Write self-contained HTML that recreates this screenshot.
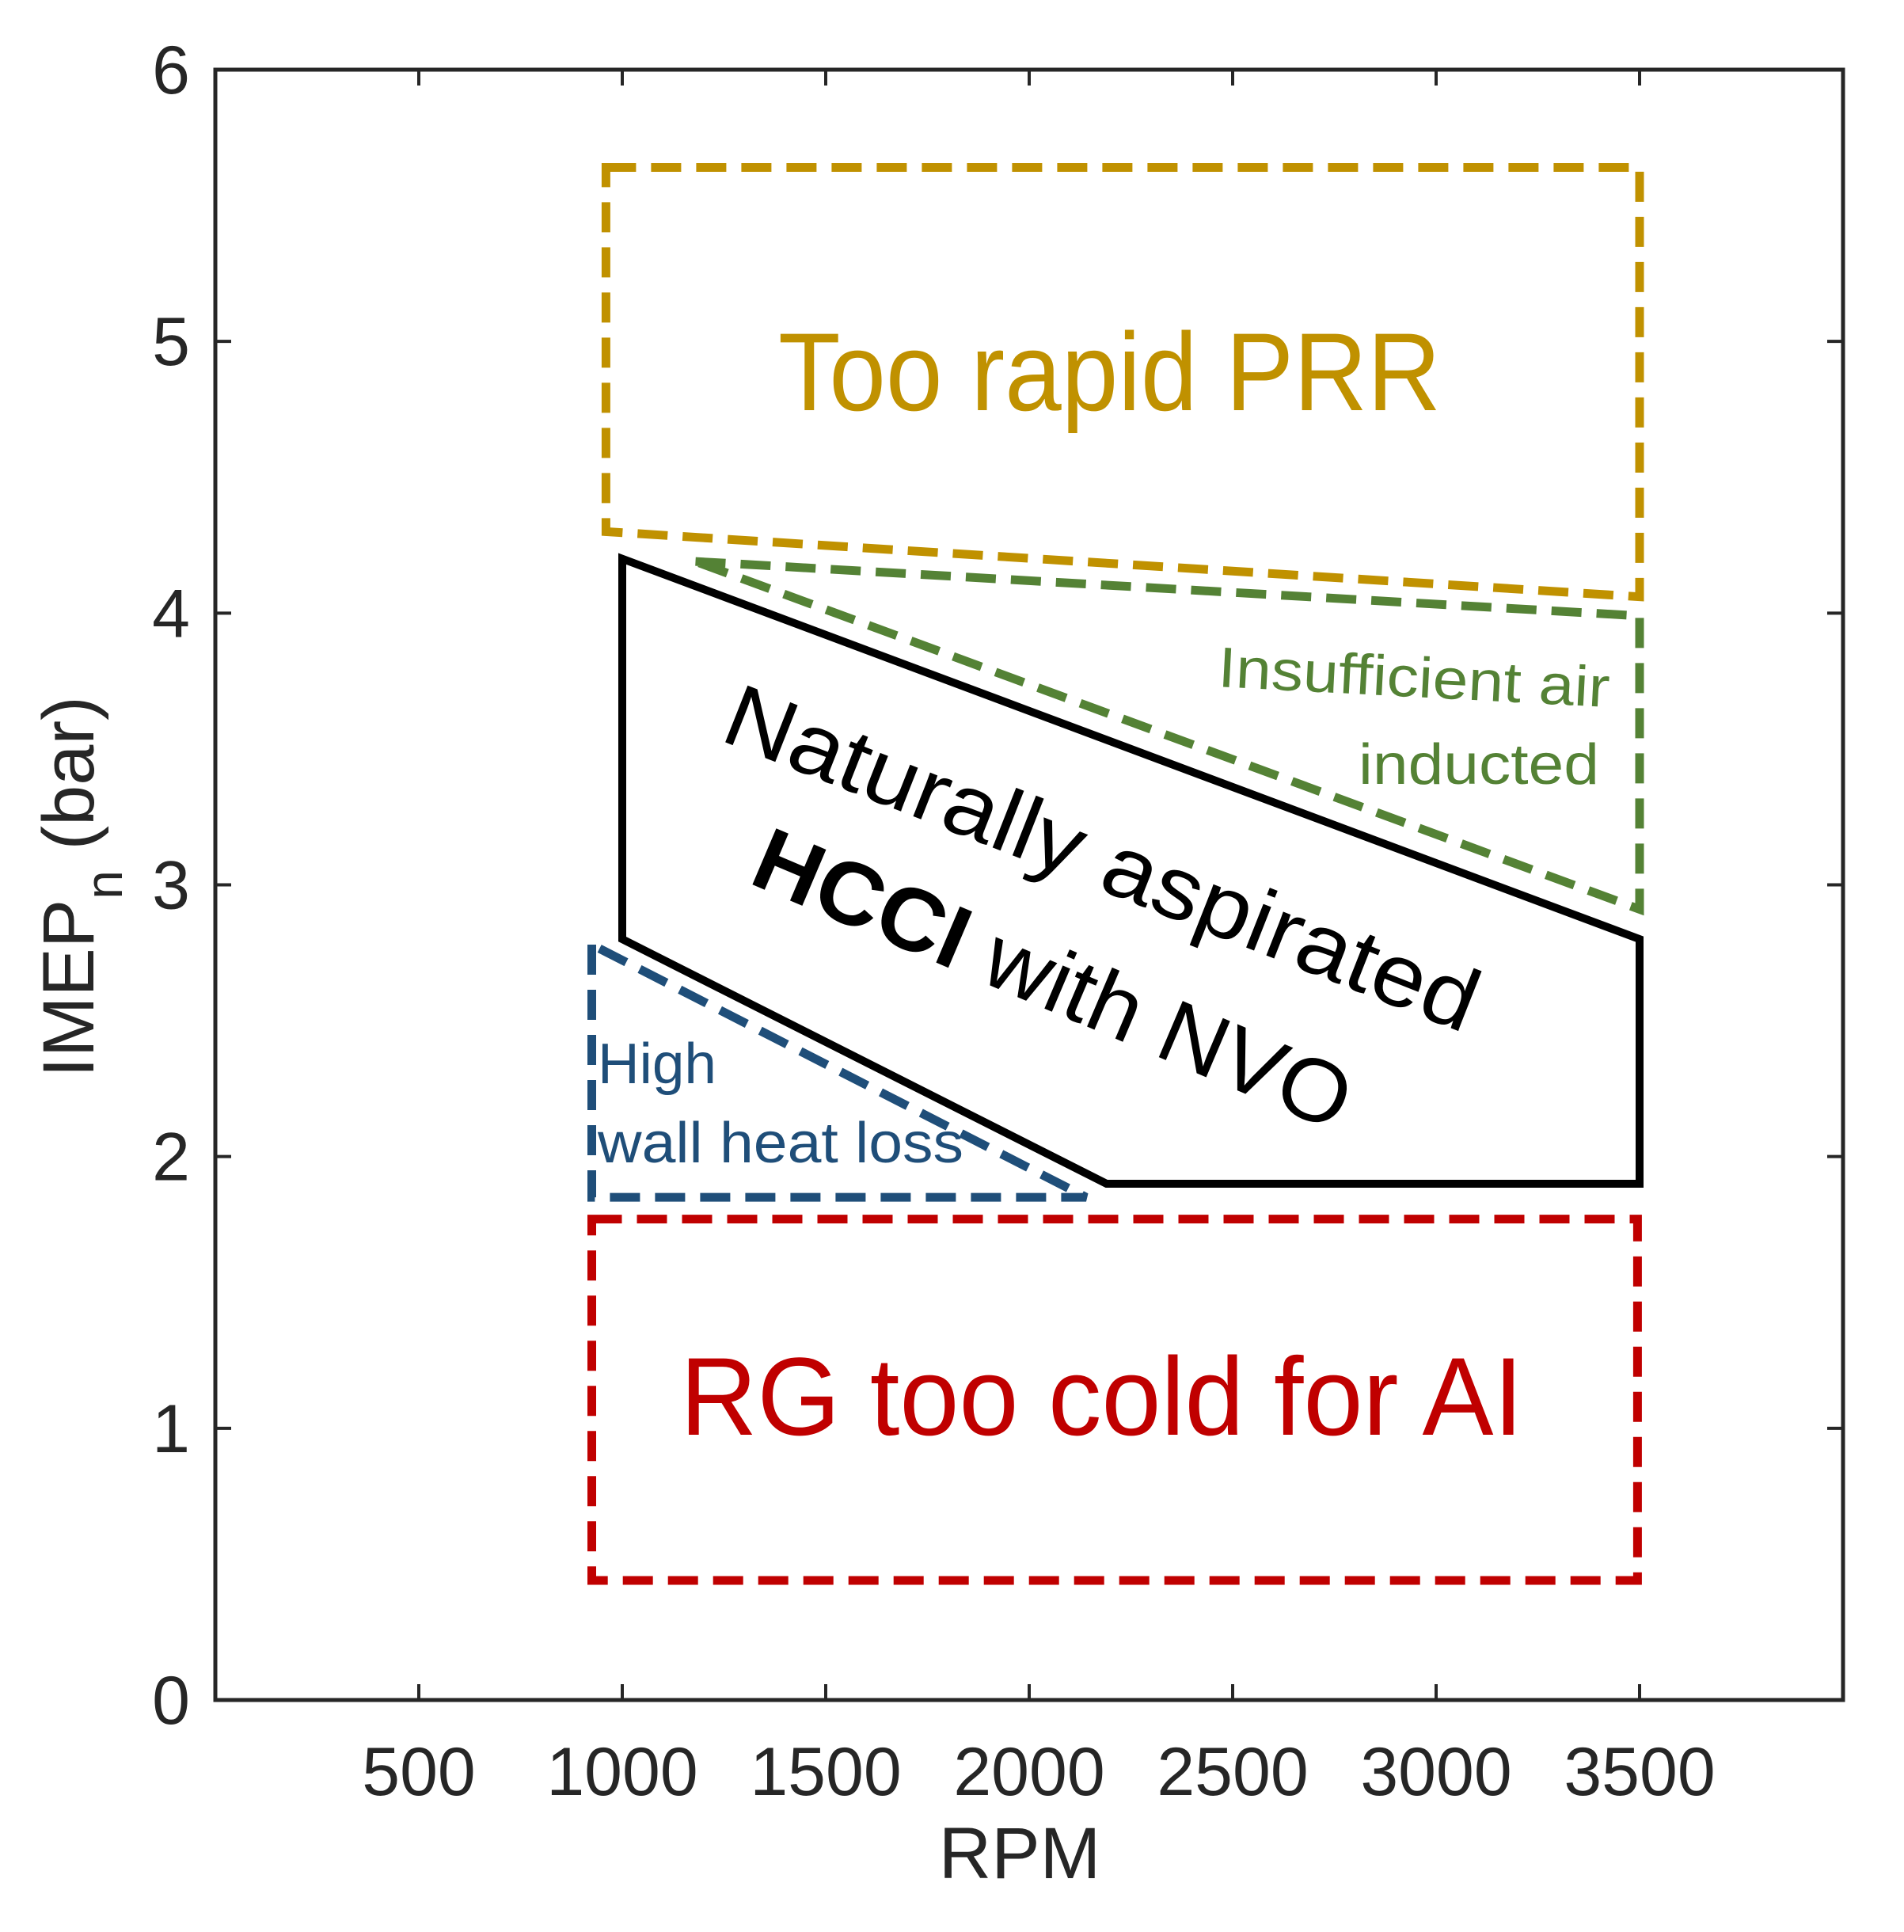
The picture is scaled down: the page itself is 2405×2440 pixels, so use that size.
<!DOCTYPE html>
<html><head><meta charset="utf-8"><style>
html,body{margin:0;padding:0;background:#fff;}
svg{display:block;}
</style></head><body>
<svg id="chart" width="2405" height="2440" viewBox="0 0 2405 2440" xmlns="http://www.w3.org/2000/svg" font-family="'Liberation Sans', sans-serif">
<g id="marks"></g>
<g id="axes"></g>
<g id="labels"></g>
</svg>
<script>
const xTicks=[500,1000,1500,2000,2500,3000,3500];
const yTicks=[0,1,2,3,4,5,6];
const prrBoxX=[960,3500,3500,960];
const prrBoxY=[5.64,5.64,4.06,4.30];
const airTriX=[1180,3500,3500];
const airTriY=[4.19,3.99,2.91];
const hcciX=[1000,1000,2190,3500,3500];
const hcciY=[4.20,2.80,1.90,1.90,2.80];
const wallTriX=[925,925,2140];
const wallTriY=[2.78,1.85,1.85];
const rgBoxX=[925,3495,3495,925];
const rgBoxY=[1.77,1.77,0.44,0.44];

const L=272,R=2328,T=88,B=2147,XMAX=4000,YMAX=6;
function sx(v){return L+(R-L)*v/XMAX;}
function sy(v){return B-(B-T)*v/YMAX;}
const NS='http://www.w3.org/2000/svg';
function mk(tag,parent,attrs){const e=document.createElementNS(NS,tag);for(const k in attrs)e.setAttribute(k,attrs[k]);parent.appendChild(e);return e;}
const marks=document.getElementById('marks'),axes=document.getElementById('axes'),labels=document.getElementById('labels');

function poly(xs,ys,color,dashed,name){
  const pts=xs.map((x,i)=>sx(x).toFixed(1)+','+sy(ys[i]).toFixed(1)).join(' ');
  const p=mk('polygon',marks,{points:pts,fill:'none',stroke:color,'stroke-width':dashed?11:10,'stroke-linejoin':'miter'});
  if(dashed)p.setAttribute('stroke-dasharray','38 19');
  
  
}
poly(prrBoxX,prrBoxY,'#C09100',true,'too-rapid-prr-region');
poly(airTriX,airTriY,'#548235',true,'insufficient-air-region');
poly(hcciX,hcciY,'#000',false,'hcci-operating-region');
poly(wallTriX,wallTriY,'#1F4E79',true,'wall-heat-loss-region');
poly(rgBoxX,rgBoxY,'#C00000',true,'rg-too-cold-region');

const box=mk('rect',axes,{x:L,y:T,width:R-L,height:B-T,fill:'none',stroke:'#262626','stroke-width':5});


xTicks.forEach(v=>{
  const x=sx(v);
  const t1=mk('line',axes,{x1:x,x2:x,y1:B,y2:B-20,stroke:'#262626','stroke-width':4});
  
  
  const t2=mk('line',axes,{x1:x,x2:x,y1:T,y2:T+20,stroke:'#262626','stroke-width':4});
  
  
  const tx=mk('text',labels,{x:x,y:B+120,'font-size':86,fill:'#262626','text-anchor':'middle'});
  tx.textContent=v;
  
  
});
yTicks.forEach(v=>{
  const y=sy(v);
  const t1=mk('line',axes,{x1:L,x2:L+20,y1:y,y2:y,stroke:'#262626','stroke-width':4});
  
  
  const t2=mk('line',axes,{x1:R,x2:R-20,y1:y,y2:y,stroke:'#262626','stroke-width':4});
  
  
  const tx=mk('text',labels,{x:L-32,y:y+30,'font-size':86,fill:'#262626','text-anchor':'end'});
  tx.textContent=v;
  
  
});
</script>
<svg style="position:absolute;left:0;top:0" width="2405" height="2440" font-family="'Liberation Sans', sans-serif">
<text x="1288" y="2372" font-size="92" fill="#262626" text-anchor="middle">RPM</text>
<text transform="translate(118,1120) rotate(-90)" font-size="92" fill="#262626" text-anchor="middle">IMEP<tspan font-size="66" dy="36">n</tspan><tspan dy="-36"> (bar)</tspan></text>
<text x="983" y="518" font-size="140" fill="#C09100" textLength="837" lengthAdjust="spacingAndGlyphs">Too rapid PRR</text>
<text x="859" y="1812" font-size="140" fill="#C00000" textLength="1065" lengthAdjust="spacingAndGlyphs">RG too cold for AI</text>
<text x="2032" y="893" font-size="72" fill="#548235" text-anchor="end" textLength="495" lengthAdjust="spacingAndGlyphs" transform="rotate(3 2032 893)">Insufficient air</text>
<text x="2020" y="990" font-size="72" fill="#548235" text-anchor="end" textLength="304" lengthAdjust="spacingAndGlyphs">inducted</text>
<text x="755" y="1368" font-size="72" fill="#1F4E79" textLength="150" lengthAdjust="spacingAndGlyphs">High</text>
<text x="755" y="1468" font-size="72" fill="#1F4E79" textLength="462" lengthAdjust="spacingAndGlyphs">wall heat loss</text>
<g transform="translate(1392,1084) rotate(21.5)">
<text x="0" y="38" font-size="112" fill="#000" text-anchor="middle" textLength="1013" lengthAdjust="spacingAndGlyphs">Naturally aspirated</text>
</g>
<g transform="translate(1330,1237) rotate(23)">
<text x="0" y="38" font-size="112" fill="#000" text-anchor="middle" textLength="808" lengthAdjust="spacingAndGlyphs"><tspan font-weight="bold">HCCI</tspan> with NVO</text>
</g>
</svg>
</body></html>
